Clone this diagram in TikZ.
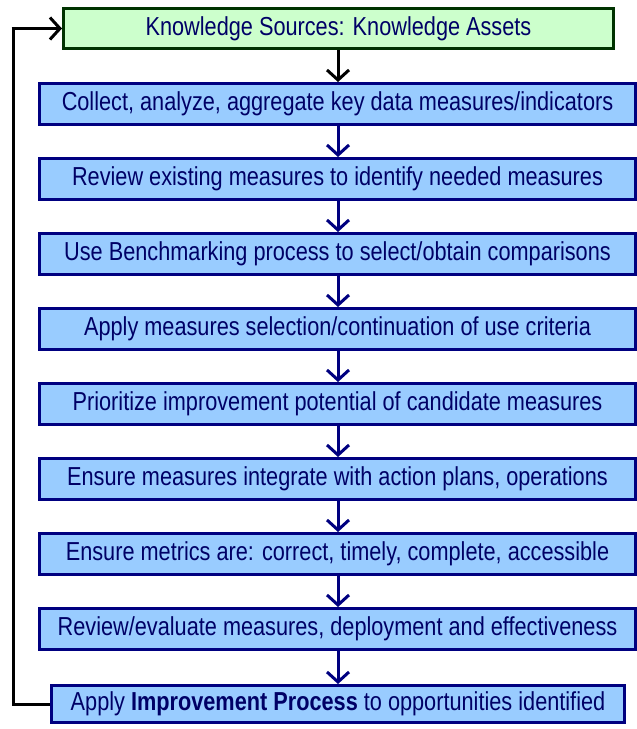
\documentclass[tikz,border=0pt]{standalone}
\usepackage{fontspec}
\setmainfont{Liberation Sans}[FakeStretch=0.835]
\usetikzlibrary{arrows.meta,shadows,calc}
\definecolor{navy}{RGB}{0,0,128}
\definecolor{txtnavy}{RGB}{0,0,102}
\definecolor{bluefill}{RGB}{153,204,255}
\definecolor{greenfill}{RGB}{204,255,204}
\definecolor{darkgreen}{RGB}{0,51,0}
\tikzset{
  bluebox/.style={draw=navy, line width=3pt, fill=bluefill, minimum width=596pt, minimum height=41pt,
    inner sep=0pt, text=txtnavy, font=\fontsize{26}{30}\selectfont,
    drop shadow={shadow xshift=1.5pt, shadow yshift=-1.5pt, fill=gray!55, opacity=1}},
  greenbox/.style={draw=darkgreen, line width=3pt, fill=greenfill, minimum width=550pt, minimum height=40pt,
    inner sep=0pt, text=txtnavy, font=\fontsize{26}{30}\selectfont},
  flowarrow/.style={draw=navy, line width=3pt, -{Straight Barb[length=10pt,width=22pt,line width=3pt]}},
  blackarrow/.style={draw=black, line width=3pt, -{Straight Barb[length=10pt,width=22pt,line width=3pt]}},
  fbline/.style={draw=black, line width=3pt}
}
\begin{document}
\begin{tikzpicture}[x=1pt,y=-1pt]
\useasboundingbox (0,0) rectangle (637,729);
\node[greenbox] (g) at (338.5,28.5) {Knowledge Sources: Knowledge Assets};
\node[bluebox] (b1) at (337.5,104) {Collect, analyze, aggregate key data measures/indicators};
\node[bluebox] (b2) at (337.5,179) {Review existing measures to identify needed measures};
\node[bluebox] (b3) at (337.5,254) {Use Benchmarking process to select/obtain comparisons};
\node[bluebox] (b4) at (337.5,329) {Apply measures selection/continuation of use criteria};
\node[bluebox] (b5) at (337.5,404) {Prioritize improvement potential of candidate measures};
\node[bluebox] (b6) at (337.5,479) {Ensure measures integrate with action plans, operations};
\node[bluebox] (b7) at (337.5,554) {Ensure metrics are: correct, timely, complete, accessible};
\node[bluebox] (b8) at (337.5,629) {Review/evaluate measures, deployment and effectiveness};
\node[bluebox, minimum width=573pt, minimum height=37pt] (b9) at (338,704) {Apply \textbf{Improvement Process} to opportunities identified};
\coordinate (fx) at (338,0);
\draw[blackarrow] (g.south -| fx) -- (b1.north -| fx);
\foreach \a/\b in {b1/b2,b2/b3,b3/b4,b4/b5,b5/b6,b6/b7,b7/b8,b8/b9}
  \draw[flowarrow] (\a.south -| fx) -- (\b.north -| fx);
\coordinate (lx) at (13,0);
\draw[fbline] (b9.west) -- (b9.west -| lx) -- (g.west -| lx);
\draw[blackarrow] ([xshift=-1.5pt]g.west -| lx) -- (g.west);
\end{tikzpicture}
\end{document}
